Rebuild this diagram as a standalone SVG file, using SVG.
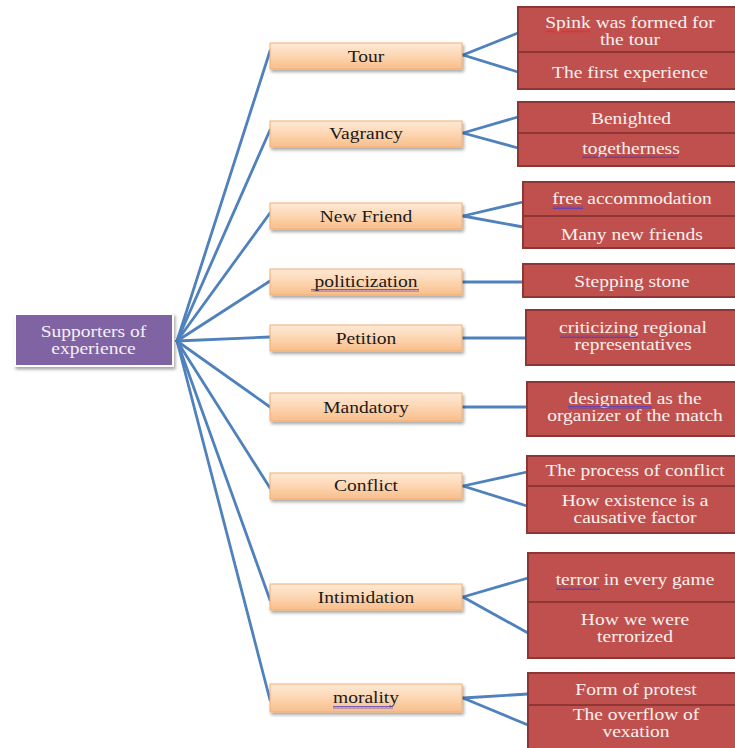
<svg xmlns="http://www.w3.org/2000/svg" width="735" height="748" viewBox="0 0 735 748">
<defs>
<linearGradient id="og" x1="0" y1="0" x2="0" y2="1">
<stop offset="0" stop-color="#FEE9D6"/>
<stop offset="0.5" stop-color="#FCD6B2"/>
<stop offset="1" stop-color="#F9BE8A"/>
</linearGradient>
<filter id="sh" x="-10%" y="-20%" width="125%" height="160%">
<feDropShadow dx="1.5" dy="2.5" stdDeviation="1.5" flood-color="#000" flood-opacity="0.35"/>
</filter>
<pattern id="wr" width="4" height="3" patternUnits="userSpaceOnUse">
<polyline points="0,2.5 1,0.5 2,2.5 3,0.5 4,2.5" fill="none" stroke="#E03030" stroke-width="0.8"/>
</pattern>
<pattern id="wb" width="4" height="3" patternUnits="userSpaceOnUse">
<polyline points="0,2.5 1,0.5 2,2.5 3,0.5 4,2.5" fill="none" stroke="#5040C0" stroke-width="0.8"/>
</pattern>
</defs>
<style>
.con line{stroke:#4F81BD;stroke-width:2.8;stroke-linecap:round}
.ob{fill:url(#og);stroke:#F2AE72;stroke-width:1;filter:url(#sh)}
.rb{fill:#C0504D;stroke:#8E3634;stroke-width:2}
.root{fill:#8064A2;stroke:#FFFFFF;stroke-width:2;filter:url(#sh)}
text{font-family:"Liberation Serif","DejaVu Serif",serif;font-size:16px;text-anchor:middle}
.ot{fill:#1A1A1A}
.rt{fill:#F8F0EE}
.wt{fill:#F4F0F8}
</style>
<rect width="735" height="748" fill="#FFFFFF"/>

<g id="connectors" class="con">
<line x1="177" y1="341" x2="270" y2="51"/>
<line x1="177" y1="341" x2="270" y2="130"/>
<line x1="177" y1="341" x2="270" y2="213"/>
<line x1="177" y1="341" x2="270" y2="281"/>
<line x1="177" y1="341" x2="270" y2="337"/>
<line x1="177" y1="341" x2="270" y2="407"/>
<line x1="177" y1="341" x2="270" y2="488"/>
<line x1="177" y1="341" x2="270" y2="600"/>
<line x1="177" y1="341" x2="270" y2="700"/>
<line x1="463" y1="55" x2="518" y2="33"/>
<line x1="463" y1="55" x2="518" y2="72"/>
<line x1="463" y1="133" x2="518" y2="117"/>
<line x1="463" y1="133" x2="518" y2="148"/>
<line x1="463" y1="216" x2="523" y2="202"/>
<line x1="463" y1="216" x2="523" y2="227"/>
<line x1="463" y1="282" x2="523" y2="282"/>
<line x1="463" y1="338" x2="526" y2="338"/>
<line x1="463" y1="407" x2="527" y2="407"/>
<line x1="463" y1="486" x2="527" y2="472"/>
<line x1="463" y1="486" x2="527" y2="506"/>
<line x1="463" y1="597" x2="528" y2="578"/>
<line x1="463" y1="597" x2="528" y2="633"/>
<line x1="463" y1="698" x2="528" y2="694"/>
<line x1="463" y1="698" x2="528" y2="725"/>
</g>

<g id="root" font-family="'Liberation Serif','DejaVu Serif',serif">
<rect class="root" x="15" y="314" width="158" height="52"/>
<text class="wt" transform="translate(93.5,337) scale(1.22,1)">Supporters of</text>
<text class="wt" transform="translate(93.5,354) scale(1.22,1)">experience</text>
</g>

<g id="tour">
<rect class="ob" x="270" y="43" width="192" height="26"/>
<text class="ot" transform="translate(366,62) scale(1.22,1)">Tour</text>
</g>
<g id="vagrancy">
<rect class="ob" x="270" y="121" width="192" height="26"/>
<text class="ot" transform="translate(366,139) scale(1.22,1)">Vagrancy</text>
</g>
<g id="newfriend">
<rect class="ob" x="270" y="203" width="192" height="26"/>
<text class="ot" transform="translate(366,222) scale(1.22,1)">New Friend</text>
</g>
<g id="politicization">
<rect class="ob" x="270" y="269" width="192" height="26"/>
<text class="ot" transform="translate(366,287) scale(1.22,1)">politicization</text>
<rect x="311" y="289" width="108" height="3" fill="url(#wb)"/>
</g>
<g id="petition">
<rect class="ob" x="270" y="325" width="192" height="26"/>
<text class="ot" transform="translate(366,344) scale(1.22,1)">Petition</text>
</g>
<g id="mandatory">
<rect class="ob" x="270" y="393" width="192" height="28"/>
<text class="ot" transform="translate(366,413) scale(1.22,1)">Mandatory</text>
</g>
<g id="conflict">
<rect class="ob" x="270" y="473" width="192" height="26"/>
<text class="ot" transform="translate(366,491) scale(1.22,1)">Conflict</text>
</g>
<g id="intimidation">
<rect class="ob" x="270" y="584" width="192" height="26"/>
<text class="ot" transform="translate(366,603) scale(1.22,1)">Intimidation</text>
</g>
<g id="morality">
<rect class="ob" x="270" y="684" width="192" height="28"/>
<text class="ot" transform="translate(366,703) scale(1.22,1)">morality</text>
<rect x="333" y="706" width="60" height="3" fill="url(#wb)"/>
</g>

<g id="tour-items">
<rect class="rb" x="518" y="7" width="224" height="45"/>
<rect class="rb" x="518" y="52" width="224" height="37"/>
<text class="rt" transform="translate(630,28) scale(1.22,1)">Spink was formed for</text>
<text class="rt" transform="translate(630,45) scale(1.22,1)">the tour</text>
<rect x="546" y="30" width="44" height="3" fill="url(#wr)"/>
<text class="rt" transform="translate(630,78) scale(1.22,1)">The first experience</text>
</g>
<g id="vagrancy-items">
<rect class="rb" x="518" y="102" width="224" height="31"/>
<rect class="rb" x="518" y="133" width="224" height="33"/>
<text class="rt" transform="translate(631,124) scale(1.22,1)">Benighted</text>
<text class="rt" transform="translate(631,154) scale(1.22,1)">togetherness</text>
<rect x="582" y="155" width="96" height="3" fill="url(#wb)"/>
</g>
<g id="newfriend-items">
<rect class="rb" x="523" y="182" width="219" height="34"/>
<rect class="rb" x="523" y="216" width="219" height="32"/>
<text class="rt" transform="translate(632,204) scale(1.22,1)">free accommodation</text>
<rect x="553" y="206" width="30" height="3" fill="url(#wb)"/>
<text class="rt" transform="translate(632,240) scale(1.22,1)">Many new friends</text>
</g>
<g id="politicization-items">
<rect class="rb" x="523" y="264" width="219" height="33"/>
<text class="rt" transform="translate(632,287) scale(1.22,1)">Stepping stone</text>
</g>
<g id="petition-items">
<rect class="rb" x="526" y="310" width="216" height="55"/>
<text class="rt" transform="translate(633,333) scale(1.22,1)">criticizing regional</text>
<rect x="560" y="335" width="78" height="3" fill="url(#wb)"/>
<text class="rt" transform="translate(633,350) scale(1.22,1)">representatives</text>
</g>
<g id="mandatory-items">
<rect class="rb" x="527" y="382" width="215" height="54"/>
<text class="rt" transform="translate(635,404) scale(1.22,1)">designated as the</text>
<rect x="568" y="406" width="84" height="3" fill="url(#wb)"/>
<text class="rt" transform="translate(635,421) scale(1.22,1)">organizer of the match</text>
</g>
<g id="conflict-items">
<rect class="rb" x="527" y="456" width="215" height="30"/>
<rect class="rb" x="527" y="486" width="215" height="47"/>
<text class="rt" transform="translate(635,476) scale(1.22,1)">The process of conflict</text>
<text class="rt" transform="translate(635,506) scale(1.22,1)">How existence is a</text>
<text class="rt" transform="translate(635,523) scale(1.22,1)">causative factor</text>
</g>
<g id="intimidation-items">
<rect class="rb" x="528" y="553" width="214" height="49"/>
<rect class="rb" x="528" y="602" width="214" height="56"/>
<text class="rt" transform="translate(635,585) scale(1.22,1)">terror in every game</text>
<rect x="556" y="587" width="44" height="3" fill="url(#wb)"/>
<text class="rt" transform="translate(635,625) scale(1.22,1)">How we were</text>
<text class="rt" transform="translate(635,642) scale(1.22,1)">terrorized</text>
</g>
<g id="morality-items">
<rect class="rb" x="528" y="673" width="214" height="32"/>
<rect class="rb" x="528" y="705" width="214" height="48"/>
<text class="rt" transform="translate(636,695) scale(1.22,1)">Form of protest</text>
<text class="rt" transform="translate(636,720) scale(1.22,1)">The overflow of</text>
<text class="rt" transform="translate(636,737) scale(1.22,1)">vexation</text>
</g>
</svg>
